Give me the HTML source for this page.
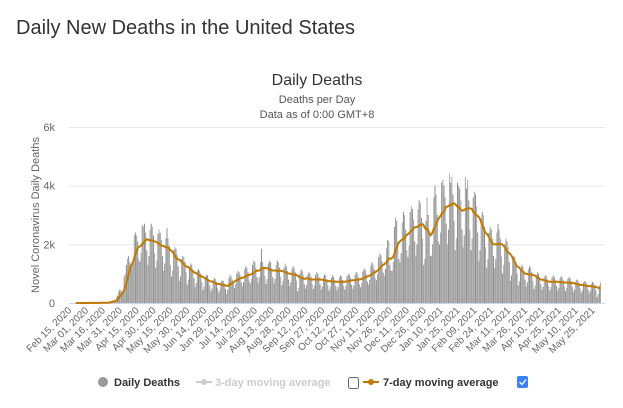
<!DOCTYPE html>
<html><head><meta charset="utf-8"><style>
body{margin:0;width:623px;height:403px;background:#fff;overflow:hidden;font-family:"Liberation Sans",sans-serif}
svg text{font-family:"Liberation Sans",sans-serif}
</style></head><body>
<svg id="c" width="623" height="403">
<text x="16" y="34" font-size="20" fill="#333">Daily New Deaths in the United States</text>
<text x="317" y="85" font-size="16" fill="#333" text-anchor="middle">Daily Deaths</text>
<text x="317" y="103" font-size="11" fill="#555" text-anchor="middle">Deaths per Day</text>
<text x="317" y="118" font-size="11" fill="#555" text-anchor="middle">Data as of 0:00 GMT+8</text>
<text transform="translate(39,215) rotate(-90)" font-size="11" fill="#666" text-anchor="middle">Novel Coronavirus Daily Deaths</text>
<g id="grid"></g><g id="bars"></g><g id="line"></g><g id="xl"></g>
<g>
<g><circle cx="103" cy="382" r="5" fill="#999"/><text x="114" y="386" font-size="11" font-weight="bold" fill="#333">Daily Deaths</text></g>
<g><line x1="196" y1="382" x2="212" y2="382" stroke="#ccc" stroke-width="2"/><circle cx="204" cy="382" r="3" fill="#ccc"/><text x="215" y="386" font-size="11" font-weight="bold" fill="#ccc">3-day moving average</text></g>
<rect x="348.5" y="377.5" width="10" height="11" rx="2" fill="#fff" stroke="#666"/>
<g><line x1="363" y1="382" x2="379" y2="382" stroke="#c17a00" stroke-width="2"/><circle cx="371" cy="382" r="3" fill="#c17a00"/><text x="383" y="386" font-size="11" font-weight="bold" fill="#333">7-day moving average</text></g>
<rect x="517" y="376" width="11" height="12" rx="2" fill="#3b82f6"/>
<path d="M519.5 382 l2.5 2.5 l4 -5" stroke="#fff" stroke-width="1.3" fill="none"/>
</g>
</svg>
<script>
const yTicks=[0,2000,4000,6000];
const yTickLabels=["0","2k","4k","6k"];
const xTickLabels=["Feb 15, 2020","Mar 01, 2020","Mar 16, 2020","Mar 31, 2020","Apr 15, 2020","Apr 30, 2020","May 15, 2020","May 30, 2020","Jun 14, 2020","Jun 29, 2020","Jul 14, 2020","Jul 29, 2020","Aug 13, 2020","Aug 28, 2020","Sep 12, 2020","Sep 27, 2020","Oct 12, 2020","Oct 27, 2020","Nov 11, 2020","Nov 26, 2020","Dec 11, 2020","Dec 26, 2020","Jan 10, 2021","Jan 25, 2021","Feb 09, 2021","Feb 24, 2021","Mar 11, 2021","Mar 26, 2021","Apr 10, 2021","Apr 25, 2021","May 10, 2021","May 25, 2021"];
const dailyDeaths=[
0,0,0,0,0,0,0, 0,0,0,0,0,0,0, 1,1,2,3,3,2,2, 3,4,6,7,6,5,4, 6,8,12,13,13,11,8,
30,40,60,80,90,70,50, 200,250,380,450,450,400,320, 900,1000,1300,1500,1600,1400,1200,
1300,1500,2300,2400,2300,2100,1500, 1400,1700,2650,2600,2700,2400,1800, 1300,1600,2500,2700,2600,2300,1700,
1200,1450,2350,2500,2400,2150,1600, 1100,1350,2200,2550,2200,1950,1300, 900,1100,1800,1900,1850,1650,1250,
750,900,1500,1600,1550,1400,1050, 630,800,1250,1350,1300,1150,850, 540,680,1100,1150,1100,1000,720,
450,560,900,980,940,820,600, 390,490,780,850,810,720,520, 360,450,720,780,750,660,480,
300,450,850,950,900,800,650, 510,640,1000,1100,1050,950,700, 570,710,1150,1250,1200,1050,760,
660,820,1300,1450,1400,1200,880, 690,860,1400,1850,1400,1250,920, 660,820,1350,1450,1400,1200,880,
660,820,1300,1450,1380,1210,880, 600,750,1200,1350,1250,1100,800, 570,710,1150,1250,1200,1050,760,
400,500,1000,1150,1100,950,640, 480,600,960,1050,1000,880,640, 480,600,960,1050,1000,880,640,
450,560,900,980,940,820,600, 430,540,870,950,900,790,580, 430,540,870,950,900,790,580,
460,580,920,1000,960,850,620, 480,600,960,1050,1000,880,640, 540,680,1080,1180,1130,990,720,
630,790,1260,1380,1310,1150,840, 780,980,1560,1700,1630,1430,1040, 930,1160,1860,2150,2100,1300,1100,
1100,1400,2600,2900,2800,2100,1500, 1380,1700,2750,3100,3000,2500,1800, 1560,1950,3100,3300,3200,2850,2100,
1620,2000,3200,3500,3400,2900,2200, 1300,1500,2800,3600,3000,2300,1600, 1620,2000,3600,4000,3700,3000,2100,
2000,2400,4100,4200,4000,3600,2700, 2000,2500,4400,4100,4300,3700,2800, 1800,2200,4100,4000,3900,3500,2500,
1900,2300,4300,3900,4200,3500,2500, 1800,2200,3600,3800,3700,3300,2400, 1440,1800,2900,3100,3000,2600,1900,
1200,1500,2400,2600,2500,2200,1600, 1200,1500,2400,2700,2500,2200,1600, 1000,1300,2000,2200,2100,1900,1400,
750,940,1500,1600,1550,1400,1000, 600,750,1200,1300,1250,1100,800, 570,710,1150,1250,1200,1050,760,
480,600,960,1050,1000,880,640, 440,550,880,950,910,800,580, 430,540,870,950,900,790,580,
420,520,840,910,880,770,560, 410,510,820,890,850,750,540, 370,460,740,800,780,680,500,
350,430,700,750,720,640,460, 330,410,660,720,690,600,440, 200,300,600,700];
const NS="http://www.w3.org/2000/svg";
const X0=69,DAY=1.126,Y0=303,YMAX=6000,YTOP=127;
const xs=i=>X0+i*DAY, ys=v=>Y0-(v/YMAX)*(Y0-YTOP);
function mk(t,a,p){const e=document.createElementNS(NS,t);for(const k in a)e.setAttribute(k,a[k]);p.appendChild(e);return e;}
const grid=document.getElementById('grid');
yTicks.forEach((v,i)=>{
 const l=mk('line',{x1:X0,x2:605,y1:ys(v)+0.5,y2:ys(v)+0.5,stroke:i==0?'#ccd6eb':'#e6e6e6'},grid);
 
 
 const t=mk('text',{x:55,y:ys(v)+4,'font-size':11,fill:'#666','text-anchor':'end'},grid);t.textContent=yTickLabels[i];
 
 
});
const bars=document.getElementById('bars');
dailyDeaths.forEach((v,i)=>{
 if(v<=0)return;
 const r=mk('rect',{x:xs(i)-0.5,y:ys(v),width:1.0,height:Y0-ys(v),fill:i%2?'#8c8c8c':'#a8a8a8'},bars);
 
 
});
let pts=[];
for(let i=6;i<dailyDeaths.length;i++){let s=0;for(let j=i-6;j<=i;j++)s+=dailyDeaths[j];pts.push(xs(i).toFixed(1)+','+ys(s/7).toFixed(1));}
const pl=mk('polyline',{points:pts.join(' '),fill:'none',stroke:'#c17a00','stroke-width':2,'stroke-linejoin':'round'},document.getElementById('line'));


const xl=document.getElementById('xl');
xTickLabels.forEach((s,i)=>{
 const x=xs(i*15);
 const t=mk('text',{transform:`translate(${x+3},${311}) rotate(-45)`,'font-size':10,fill:'#666','text-anchor':'end'},xl);t.textContent=s;
 
 
});
</script>
</body></html>
